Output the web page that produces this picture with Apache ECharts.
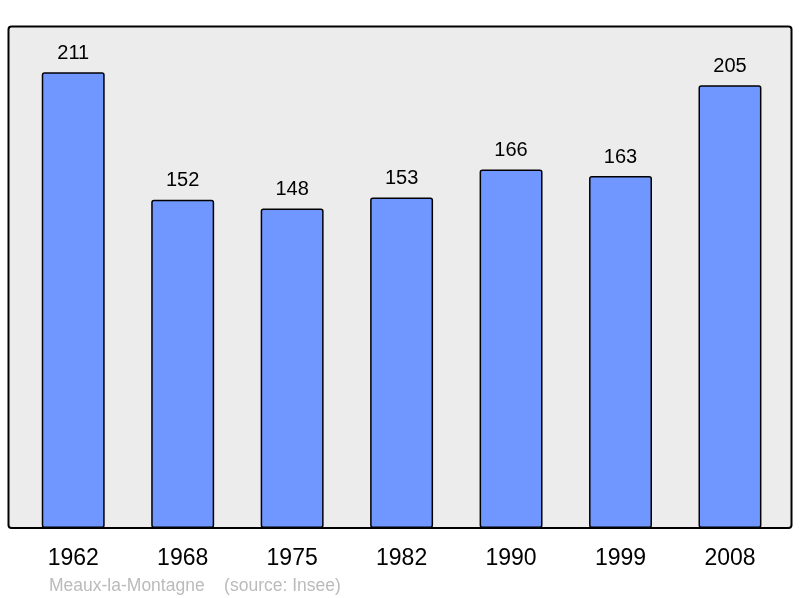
<!DOCTYPE html>
<html>
<head>
<meta charset="utf-8">
<script src="https://cdn.jsdelivr.net/npm/echarts@6/dist/echarts.min.js"></script>
<style>
  html, body { margin: 0; padding: 0; background: #fff; }
  #main { width: 800px; height: 598px; }
</style>
</head>
<body>
<div id="main"></div>
<script>
var years = ['1962', '1968', '1975', '1982', '1990', '1999', '2008'];
var population = [211, 152, 148, 153, 166, 163, 205];
var footer = 'Meaux-la-Montagne    (source: Insee)';

var myChart = echarts.init(document.getElementById('main'));

var option = {
    animation: false,
    textStyle: { fontFamily: 'Liberation Sans, Arial, sans-serif' },
    graphic: [
        {
            type: 'rect',
            z: 0,
            shape: { x: 8.5, y: 26.5, width: 783, height: 501.5, r: 3 },
            style: { fill: '#ececec', stroke: '#000', lineWidth: 2 }
        },
        {
            type: 'text',
            left: 49,
            top: 577,
            style: {
                text: footer,
                fill: '#bbbbbb',
                font: '17.5px "Liberation Sans", Arial, sans-serif'
            }
        }
    ],
    grid: { left: 18.5, right: 15.3, top: 27, bottom: 70 },
    xAxis: {
        type: 'category',
        data: years,
        axisLine: { show: false },
        axisTick: { show: false },
        axisLabel: {
            color: '#000',
            fontSize: 23,
            margin: 19
        }
    },
    yAxis: {
        type: 'value',
        min: 0,
        max: 232,
        show: false,
        splitLine: { show: false }
    },
    series: [{
        type: 'bar',
        data: population,
        barWidth: '57.5%',
        itemStyle: {
            color: '#7096ff',
            borderColor: '#000',
            borderWidth: 1.5,
            borderRadius: 2
        },
        label: {
            show: true,
            position: 'top',
            distance: 9,
            color: '#000',
            fontSize: 20
        }
    }]
};

myChart.setOption(option);
</script>
</body>
</html>
